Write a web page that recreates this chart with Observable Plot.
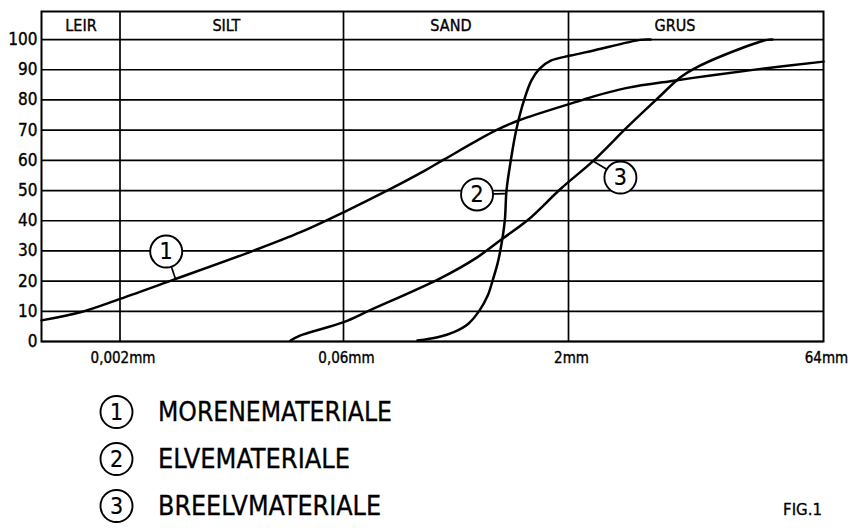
<!DOCTYPE html>
<html><head><meta charset="utf-8">
<script src="https://cdn.jsdelivr.net/npm/d3@7"></script>
<script src="https://cdn.jsdelivr.net/npm/@observablehq/plot@0.6"></script>
<style>
body{margin:0;background:#fff;}
#chart svg{display:block;}
</style></head><body><div id="chart"></div>
<script>
const FONT = '"DejaVu Sans Condensed","Liberation Sans Narrow","DejaVu Sans",sans-serif';

// axis ticks
const yTicks = [0, 10, 20, 30, 40, 50, 60, 70, 80, 90, 100];
const xTicks = [0.002, 0.06, 2, 64];
const xTickLabels = ["0,002mm", "0,06mm", "2mm", "64mm"];

// grain-size classes (header)
const zoneNames = ["LEIR", "SILT", "SAND", "GRUS"];
const zoneCentre = [0.0011, 0.0101, 0.32, 8.5];
const zoneBounds = [0.002, 0.06, 2];

// series
const seriesNames = ["MORENEMATERIALE", "ELVEMATERIALE", "BREELVMATERIALE"];
const seriesNumbers = ["1", "2", "3"];

const moreneSize = [0.0006, 0.00109, 0.002, 0.00454, 0.0153, 0.0312, 0.060, 0.122, 0.213, 0.288, 0.644, 0.916, 2.35, 2.82, 4.44, 8.37, 13.8, 27.2, 64];
const morenePct  = [7.0, 9.7, 14.1, 20.5, 30.1, 36.2, 42.8, 50.3, 56.6, 60.3, 69.9, 73.2, 79.8, 81.2, 84.0, 86.4, 88.1, 90.3, 92.7];

const elveSize = [0.19, 0.26, 0.335, 0.42, 0.50, 0.568, 0.613, 0.661, 0.695, 0.741, 0.761, 0.814, 0.885, 1.003, 1.121, 1.271, 1.517, 2.055, 2.82, 5.32, 6.1];
const elvePct  = [0.3, 1.4, 3.1, 5.9, 10.3, 15.2, 20.2, 25.7, 30.7, 40, 50, 60, 70, 80.1, 86.4, 90.3, 93.0, 94.7, 96.4, 99.9, 100];

const breelvSize = [0.0268, 0.0312, 0.0601, 0.0902, 0.273, 0.476, 0.713, 1.066, 1.765, 2.82, 4.44, 6.68, 9.16, 10.98, 17.3, 29.8, 32];
const breelvPct  = [0.3, 2.0, 6.4, 10.3, 21, 27.7, 34, 40.3, 50.5, 60, 71, 80.4, 87.5, 90.3, 95.3, 99.9, 100];

// curve labels (circle position and point on the curve)
const labelSize = [0.00404, 0.481, 4.05];
const labelPct  = [29.8, 48.7, 54.3];
const anchorSize = [0.00465, 0.76, 2.82];
const anchorPct  = [20.8, 49, 59.6];

const series = [
  moreneSize.map((s, i) => ({s, p: morenePct[i]})),
  elveSize.map((s, i) => ({s, p: elvePct[i]})),
  breelvSize.map((s, i) => ({s, p: breelvPct[i]}))
];
const labels = seriesNumbers.map((n, i) => ({n, x: labelSize[i], y: labelPct[i], ax: anchorSize[i], ay: anchorPct[i]}));
const yTop = 109.3;

const W = 857, H = 375;
const txt = {fill: "#000", stroke: "#000", strokeWidth: 0.35};
const plot = Plot.plot({
  width: W, height: H,
  marginLeft: 41, marginRight: 34, marginTop: 11, marginBottom: 34,
  style: {fontFamily: FONT, background: "#fff", color: "#000"},
  x: {type: "log", domain: [0.0006, 0.002, 0.06, 2, 64], range: [41, 119.5, 343, 568, 823], axis: null},
  y: {domain: [0, yTop], axis: null},
  marks: [
    Plot.ruleY(yTicks, {stroke: "#000", strokeWidth: 1.7}),
    Plot.ruleX(zoneBounds, {stroke: "#000", strokeWidth: 1.7}),
    Plot.frame({stroke: "#000", strokeWidth: 2}),
    Plot.text(zoneNames, {x: (d, i) => zoneCentre[i], y: () => (100 + yTop) / 2, text: d => d, fontSize: 16, ...txt}),
    Plot.text(yTicks, {x: () => 0.0006, y: d => d, text: d => String(d), textAnchor: "end", dx: -4, fontSize: 17, ...txt}),
    Plot.text(xTicks, {x: d => d, y: () => 0, text: (d, i) => xTickLabels[i], dy: 17, dx: 3, fontSize: 15, ...txt}),
    ...series.map(data => Plot.line(data, {x: "s", y: "p", stroke: "#000", strokeWidth: 2.5, curve: "catmull-rom"})),
    Plot.link(labels, {x1: "x", y1: "y", x2: "ax", y2: "ay", stroke: "#000", strokeWidth: 1.7}),
    Plot.dot(labels, {x: "x", y: "y", r: 16, fill: "#fff", stroke: "#000", strokeWidth: 1.9}),
    Plot.text(labels, {x: "x", y: "y", text: "n", fontSize: 23, fill: "#000", stroke: "#000", strokeWidth: 0.2})
  ]
});
document.getElementById("chart").appendChild(plot);

// legend below the chart
const legendH = 528 - H;
const leg = d3.select("#chart").append("svg")
  .attr("width", W).attr("height", legendH)
  .style("font-family", FONT);
const rowY = [412, 459, 506].map(v => v - H);
const textLen = [234, 192, 223];
seriesNames.forEach((name, i) => {
  const g = leg.append("g").attr("transform", `translate(0,${rowY[i]})`);
  g.append("circle").attr("cx", 116.5).attr("cy", 0).attr("r", 16).attr("fill", "#fff").attr("stroke", "#000").attr("stroke-width", 1.9);
  g.append("text").attr("x", 116.5).attr("y", 0).attr("dy", "0.36em").attr("text-anchor", "middle").attr("font-size", 23)
    .attr("stroke", "#000").attr("stroke-width", 0.2).text(seriesNumbers[i]);
  g.append("text").attr("x", 158).attr("y", 0).attr("dy", "0.36em").attr("font-size", 26)
    .attr("stroke", "#000").attr("stroke-width", 0.3)
    .attr("textLength", textLen[i]).attr("lengthAdjust", "spacingAndGlyphs").text(name);
});
leg.append("text").attr("x", 783).attr("y", 510 - H).attr("dy", "0.36em").attr("font-size", 15)
  .attr("stroke", "#000").attr("stroke-width", 0.3)
  .attr("textLength", 39).attr("lengthAdjust", "spacingAndGlyphs").text("FIG.1");
</script>
</body></html>
